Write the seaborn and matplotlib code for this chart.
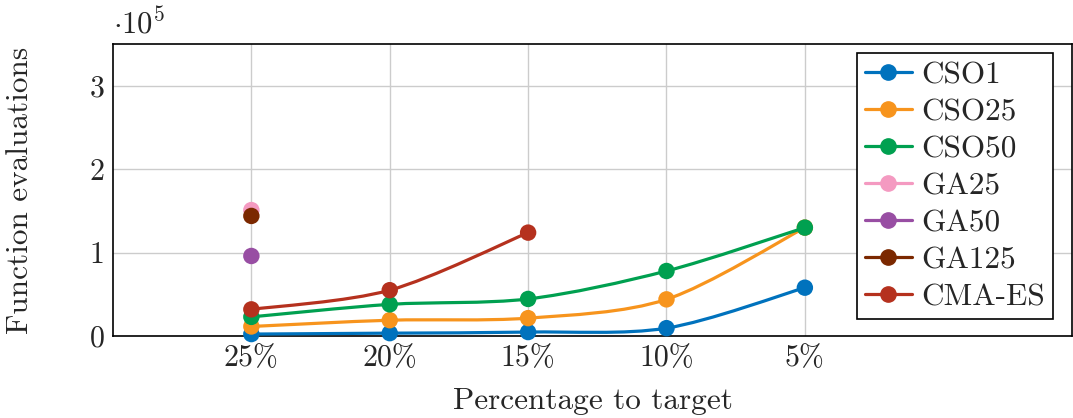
import numpy as np
import pandas as pd
import matplotlib
matplotlib.use('Agg')
import matplotlib.pyplot as plt
import seaborn as sns
from matplotlib.path import Path
from matplotlib.patches import PathPatch
from matplotlib.lines import Line2D
from matplotlib.ticker import FuncFormatter

targets = ['25%', '20%', '15%', '10%', '5%']
cso1 = [2400, 3500, 4800, 9500, 58000]
cso25 = [11500, 19000, 21500, 44000, 130000]
cso50 = [23000, 38000, 44500, 78000, 130000]
ga25 = [151000]
ga50 = [96000]
ga125 = [144000]
cmaes = [32000, 55000, 124000]

names = ['CSO1', 'CSO25', 'CSO50', 'GA25', 'GA50', 'GA125', 'CMA-ES']
series = [cso1, cso25, cso50, ga25, ga50, ga125, cmaes]
colors = ['#0072bd', '#f7941d', '#00a050', '#f49ac1', '#984ea3', '#7b2800', '#b5311e']

rows = []
for name, vals in zip(names, series):
    for i, v in enumerate(vals):
        rows.append({'algo': name, 'pos': i + 1, 'evals': v})
df = pd.DataFrame(rows)

sns.set_theme(style='whitegrid')
plt.rcParams['font.family'] = 'serif'
plt.rcParams['font.serif'] = ['cmr10']
plt.rcParams['mathtext.fontset'] = 'cm'
plt.rcParams['axes.formatter.use_mathtext'] = True


def smooth_path(x, y, t=0.1526):
    # pgfplots style smooth curve through the points
    x = np.asarray(x, float)
    y = np.asarray(y, float)
    n = len(x)
    verts = [(x[0], y[0])]
    codes = [Path.MOVETO]
    for i in range(n - 1):
        xp, yp = (x[i - 1], y[i - 1]) if i > 0 else (x[i], y[i])
        xn, yn = (x[i + 2], y[i + 2]) if i + 2 < n else (x[i + 1], y[i + 1])
        c1 = (x[i] + t * (x[i + 1] - xp), y[i] + t * (y[i + 1] - yp))
        c2 = (x[i + 1] - t * (xn - x[i]), y[i + 1] - t * (yn - y[i]))
        verts += [c1, c2, (x[i + 1], y[i + 1])]
        codes += [Path.CURVE4] * 3
    return Path(verts, codes)


fig = plt.figure(figsize=(10.73, 4.18), dpi=100)
ax = fig.add_axes([0.1053, 0.196, 0.8937, 0.6986])

for k, (name, vals) in enumerate(zip(names, series)):
    if len(vals) > 1:
        xs = np.arange(1, len(vals) + 1)
        ax.add_patch(PathPatch(smooth_path(xs, vals), facecolor='none',
                               edgecolor=colors[k], lw=2.3, zorder=3 + 2 * k))
    sub = df[df.algo == name]
    sns.scatterplot(data=sub, x='pos', y='evals', ax=ax, color=colors[k], s=140,
                    edgecolor='none', zorder=4 + 2 * k, legend=False, clip_on=False)

ax.set_xlim(0, 6.93)
ax.set_ylim(0, 350000)
ax.set_xticks(range(1, 6))
ax.set_xticklabels(targets)
ax.set_yticks([0, 100000, 200000, 300000])
ax.yaxis.set_major_formatter(FuncFormatter(lambda v, p: '%d' % round(v / 1e5)))
ax.tick_params(labelsize=21.5, length=0, pad=6)
ax.grid(True, color='#cccccc', lw=1)
for s in ax.spines.values():
    s.set_color('black')
    s.set_linewidth(1.2)
ax.set_facecolor('white')
ax.set_xlabel('Percentage to target', fontsize=22.5, labelpad=11)
ax.set_ylabel('Function evaluations', fontsize=22.5, labelpad=40)
fig.text(0.105, 0.92, r'$\cdot 10^5$', fontsize=22)

handles = [Line2D([], [], color=c, lw=2.3, marker='o', markersize=11) for c in colors]
leg = ax.legend(handles, names, loc='upper right', fontsize=22.5, frameon=True,
                fancybox=False, edgecolor='black', framealpha=1, borderpad=0.25,
                labelspacing=0.29, handlelength=1.5, handletextpad=0.3,
                borderaxespad=0, bbox_to_anchor=(0.98, 0.968))
leg.get_frame().set_linewidth(1.2)

fig.savefig('out.png', dpi=100)
